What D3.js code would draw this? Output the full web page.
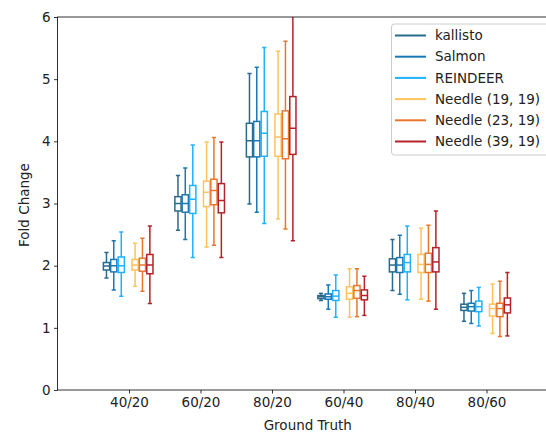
<!DOCTYPE html>
<html><head><meta charset="utf-8">
<script src="https://d3js.org/d3.v7.min.js"></script>
<style>body{margin:0;background:#fff}svg{display:block;font-family:"DejaVu Sans",sans-serif}</style>
</head><body><svg id="c" width="546" height="434"></svg>
<script>
const categories = ["40/20","60/20","80/20","60/40","80/40","80/60"];
const methods = ["kallisto","Salmon","REINDEER","Needle (19, 19)","Needle (23, 19)","Needle (39, 19)"];
const colors = ["#2b6a8a","#1a78b6","#1fb2ff","#ffc35c","#e8772e","#b5222a"];
const yTicks = [0,1,2,3,4,5,6];
// each box: [whiskerLow, q1, median, q3, whiskerHigh]
const kallisto = [[1.80,1.93,1.995,2.05,2.21],[2.57,2.88,3.00,3.11,3.45],[2.99,3.75,4.01,4.29,5.09],[1.44,1.47,1.50,1.52,1.555],[1.60,1.90,2.01,2.11,2.42],[1.105,1.28,1.33,1.38,1.555]];
const salmon = [[1.61,1.90,2.00,2.10,2.40],[2.42,2.86,3.00,3.14,3.57],[2.86,3.75,4.01,4.32,5.19],[1.30,1.46,1.50,1.545,1.69],[1.54,1.89,2.01,2.13,2.49],[1.07,1.27,1.34,1.395,1.60]];
const reindeer = [[1.51,1.89,2.00,2.14,2.54],[2.13,2.84,3.07,3.29,3.94],[2.68,3.76,4.13,4.48,5.51],[1.17,1.44,1.51,1.60,1.85],[1.45,1.90,2.05,2.18,2.64],[1.03,1.26,1.34,1.43,1.65]];
const needle19 = [[1.67,1.93,2.01,2.10,2.36],[2.30,2.95,3.18,3.36,3.99],[2.75,3.76,4.07,4.44,5.45],[1.17,1.46,1.555,1.66,1.95],[1.46,1.89,2.02,2.18,2.60],[0.91,1.19,1.31,1.38,1.705]];
const needle23 = [[1.59,1.91,2.01,2.12,2.44],[2.33,2.98,3.21,3.39,4.06],[2.59,3.72,4.04,4.49,5.61],[1.18,1.475,1.60,1.68,1.95],[1.43,1.89,2.02,2.20,2.65],[0.86,1.18,1.31,1.395,1.75]];
const needle39 = [[1.39,1.87,2.01,2.18,2.64],[2.13,2.85,3.05,3.32,3.99],[2.40,3.79,4.21,4.72,6.40],[1.20,1.45,1.52,1.61,1.83],[1.30,1.90,2.06,2.29,2.88],[0.87,1.24,1.37,1.48,1.89]];
const series = [kallisto, salmon, reindeer, needle19, needle23, needle39];

const svg = d3.select("#c");
const L = 57.5, R = 558, T = 17, B = 390;
const x = d3.scaleLinear().domain([0, 7]).range([L, R]);
const y = d3.scaleLinear().domain([0, 6]).range([B, T]);
const offsets = [-0.315, -0.213, -0.108, 0.085, 0.188, 0.292];
const boxW = 6.2, capW = 4.2;

svg.append("defs").append("clipPath").attr("id","clip").append("rect")
  .attr("x", L).attr("y", T).attr("width", R - L).attr("height", B - T);
const plot = svg.append("g").attr("clip-path","url(#clip)");

series.forEach((data, si) => {
  const g = plot.append("g").attr("stroke", colors[si]).attr("stroke-width", 1.5).attr("fill","none");
  data.forEach((d, ci) => {
    const cx = x(ci + 1 + offsets[si]);
    const [lo, q1, med, q3, hi] = d;
    g.append("line").attr("x1",cx).attr("x2",cx).attr("y1",y(q3)).attr("y2",y(hi));
    g.append("line").attr("x1",cx).attr("x2",cx).attr("y1",y(q1)).attr("y2",y(lo));
    g.append("line").attr("x1",cx-capW/2).attr("x2",cx+capW/2).attr("y1",y(hi)).attr("y2",y(hi));
    g.append("line").attr("x1",cx-capW/2).attr("x2",cx+capW/2).attr("y1",y(lo)).attr("y2",y(lo));
    g.append("rect").attr("x",cx-boxW/2).attr("width",boxW).attr("y",y(q3)).attr("height",y(q1)-y(q3));
    g.append("line").attr("x1",cx-boxW/2).attr("x2",cx+boxW/2).attr("y1",y(med)).attr("y2",y(med));
  });
});

// axes
const yAxis = d3.axisLeft(y).tickValues(yTicks).tickSize(3.5).tickPadding(3.5).tickFormat(d3.format("d"));
const gy = svg.append("g").attr("transform",`translate(${L},0)`).call(yAxis);
const xAxis = d3.axisBottom(x).tickValues(d3.range(1, categories.length + 1)).tickSize(3.5).tickPadding(3.5)
  .tickFormat(d => categories[d - 1]);
const gx = svg.append("g").attr("transform",`translate(0,${B})`).call(xAxis);
[gx, gy].forEach(g => {
  g.select(".domain").remove();
  g.selectAll("text").attr("font-size", 13.5).attr("fill","#222").attr("font-family","DejaVu Sans");
  g.selectAll("line").attr("stroke","#000").attr("stroke-width",0.8);
});
svg.append("rect").attr("x",L).attr("y",T).attr("width",R-L).attr("height",B-T)
  .attr("fill","none").attr("stroke","#000").attr("stroke-width",0.8);

svg.append("text").attr("x", (L + R) / 2).attr("y", 430).attr("text-anchor","middle")
  .attr("font-size",13.5).attr("fill","#222").text("Ground Truth");
svg.append("text").attr("transform","translate(29,205) rotate(-90)").attr("text-anchor","middle")
  .attr("font-size",13.5).attr("fill","#222").text("Fold Change");

// legend
const lg = svg.append("g");
lg.append("rect").attr("x",391.5).attr("y",24).attr("width",180).attr("height",131).attr("rx",3)
  .attr("fill","#fff").attr("fill-opacity",0.8).attr("stroke","#ccc").attr("stroke-width",1);
methods.forEach((m, i) => {
  const yy = 35.5 + i * 21.2;
  lg.append("line").attr("x1",395).attr("x2",426).attr("y1",yy).attr("y2",yy)
    .attr("stroke",colors[i]).attr("stroke-width",2);
  lg.append("text").attr("x",435).attr("y",yy).attr("dy","0.35em").attr("font-size",13.5)
    .attr("fill","#222").text(m);
});
</script></body></html>
